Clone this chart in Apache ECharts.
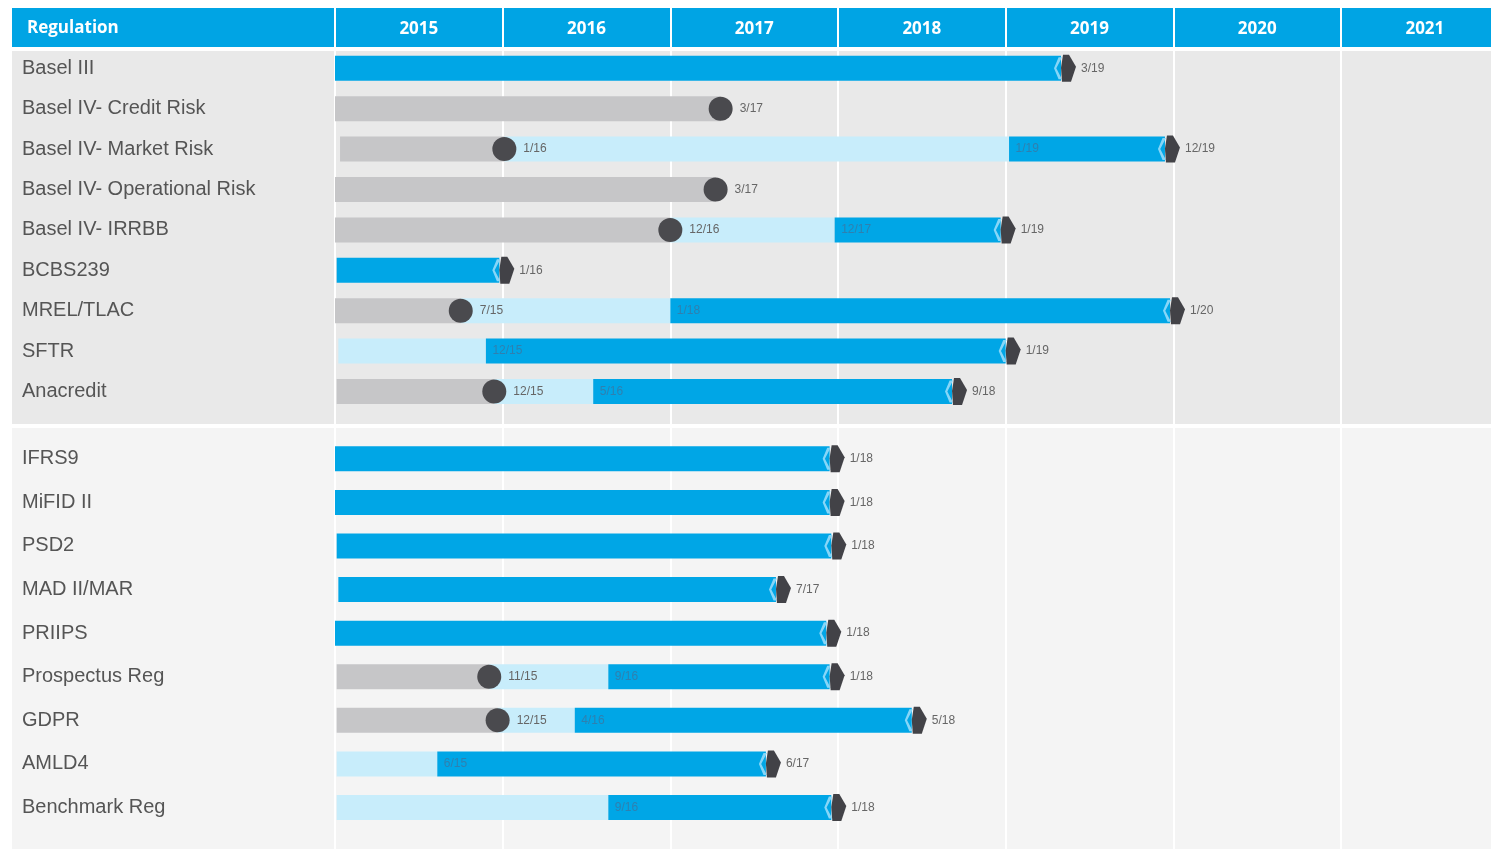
<!DOCTYPE html>
<html>
<head>
<meta charset="utf-8">
<script src="https://cdn.jsdelivr.net/npm/echarts@6/dist/echarts.min.js"></script>
<style>
html,body{margin:0;padding:0;background:#ffffff;}
#chart{width:1491px;height:849px;}
</style>
</head>
<body>
<div id="chart"></div>
<script>
// ---------------- DATA ----------------
const years = ['2015', '2016', '2017', '2018', '2019', '2020', '2021'];

const topRegulations = ['Basel III', 'Basel IV- Credit Risk', 'Basel IV- Market Risk', 'Basel IV- Operational Risk',
  'Basel IV- IRRBB', 'BCBS239', 'MREL/TLAC', 'SFTR', 'Anacredit'];
const bottomRegulations = ['IFRS9', 'MiFID II', 'PSD2', 'MAD II/MAR', 'PRIIPS', 'Prospectus Reg', 'GDPR',
  'AMLD4', 'Benchmark Reg'];

// positions in decimal years, one entry per regulation (top list, then bottom list)
const starts = [2015.00, 2015.00, 2015.03, 2015.00, 2015.00, 2015.01, 2015.00, 2015.02, 2015.01,
                2015.00, 2015.00, 2015.01, 2015.02, 2015.00, 2015.01, 2015.01, 2015.01, 2015.01];
// end of the grey phase (dot); null = no grey phase
const dots = [null, 2017.30, 2016.01, 2017.27, 2017.00, null, 2015.75, null, 2015.95,
              null, null, null, null, null, 2015.92, 2015.97, null, null];
// start of the solid blue phase
const blueStarts = [2015.00, null, 2019.02, null, 2017.98, 2015.01, 2017.00, 2015.90, 2016.54,
                    2015.00, 2015.00, 2015.01, 2015.02, 2015.00, 2016.63, 2016.43, 2015.61, 2016.63];
// end of the blue phase (arrow marker)
const ends = [2019.33, null, 2019.95, null, 2018.97, 2015.98, 2019.98, 2019.00, 2018.68,
              2017.95, 2017.95, 2017.96, 2017.63, 2017.93, 2017.95, 2018.44, 2017.57, 2017.96];

const dotLabels = ['', '3/17', '1/16', '3/17', '12/16', '', '7/15', '', '12/15',
                   '', '', '', '', '', '11/15', '12/15', '', ''];
const blueLabels = ['', '', '1/19', '', '12/17', '', '1/18', '12/15', '5/16',
                    '', '', '', '', '', '9/16', '4/16', '6/15', '9/16'];
const endLabels = ['3/19', '', '12/19', '', '1/19', '1/16', '1/20', '1/19', '9/18',
                   '1/18', '1/18', '1/18', '7/17', '1/18', '1/18', '5/18', '6/17', '1/18'];

// ---------------- STYLE ----------------
const C_BLUE = '#00A6E6';
const C_HEADER = '#00A4E4';
const C_LIGHT = '#C8EDFB';
const C_GREY = '#C6C6C8';
const C_DOT = '#4A4A4E';
const C_MARK = '#424247';
const BAR_H = 25;
const LABEL_FONT = 'Liberation Sans, Arial, sans-serif';

function barRenderer(color) {
  return function (params, api) {
    const row = api.value(0);
    const p0 = api.coord([api.value(1), row]);
    const p1 = api.coord([api.value(2), row]);
    return {
      type: 'rect',
      shape: { x: p0[0], y: p0[1] - BAR_H / 2, width: p1[0] - p0[0], height: BAR_H },
      style: { fill: color }
    };
  };
}

function sectionSeries(sec, offset, count) {
  const axisIdx = sec + 1;
  const grey = [], light = [], blue = [], dotPts = [], bluePts = [], endPts = [];
  for (let r = 0; r < count; r++) {
    const i = offset + r;
    if (dots[i] != null) {
      grey.push([r, starts[i], dots[i]]);
      dotPts.push({ name: dotLabels[i], value: [dots[i], r] });
    }
    const lightFrom = dots[i] != null ? dots[i] : starts[i];
    if (blueStarts[i] != null && blueStarts[i] > lightFrom + 0.001) {
      light.push([r, lightFrom, blueStarts[i]]);
    }
    if (ends[i] != null) {
      blue.push([r, blueStarts[i], ends[i]]);
      endPts.push({ name: endLabels[i], value: [ends[i], r] });
    }
    if (blueLabels[i]) bluePts.push({ name: blueLabels[i], value: [blueStarts[i], r] });
  }
  const common = { xAxisIndex: axisIdx, yAxisIndex: axisIdx };
  const custom = (name, data, color) => Object.assign({
    type: 'custom', name: name, data: data, renderItem: barRenderer(color),
    encode: { x: [1, 2], y: 0 }, silent: true
  }, common);
  const smallLabel = {
    show: true, position: 'right', formatter: '{b}', fontSize: 12,
    color: '#666', fontFamily: LABEL_FONT
  };
  return [
    custom('grey' + sec, grey, C_GREY),
    custom('light' + sec, light, C_LIGHT),
    custom('blue' + sec, blue, C_BLUE),
    Object.assign({
      type: 'scatter', data: bluePts, symbolSize: 1, itemStyle: { color: 'rgba(0,0,0,0)', opacity: 1 },
      label: Object.assign({}, smallLabel, { distance: 6, color: '#2E80B0' }), silent: true
    }, common),
    Object.assign({
      type: 'scatter', data: dotPts, symbol: 'circle', symbolSize: 24,
      itemStyle: { color: C_DOT, opacity: 1 }, label: Object.assign({}, smallLabel, { distance: 7 }), silent: true
    }, common),
    Object.assign({
      type: 'scatter', data: endPts.map(p => ({ value: p.value })),
      symbol: 'path://M4,0 L7,0 L2,13 L7,26 L4,26 L0,13 Z', symbolSize: [8, 22], symbolOffset: [-3, 0],
      itemStyle: { color: '#86D6F8', opacity: 1 }, silent: true
    }, common),
    Object.assign({
      type: 'scatter', data: endPts,
      symbol: 'path://M2,0 L8,0 L15,12 L10,27 L1,27 L0,13 Z', symbolSize: [15, 27], symbolOffset: [7.5, 0],
      itemStyle: { color: C_MARK, opacity: 1 }, label: Object.assign({}, smallLabel, { distance: 5 }), silent: true
    }, common)
  ];
}

const plotLeft = 335;
const yearPx = 167.67;
const plotWidth = yearPx * 7;

const valueX = (g) => ({
  gridIndex: g, type: 'value', min: 2015, max: 2022, interval: 1,
  axisLine: { show: false }, axisTick: { show: false }, axisLabel: { show: false },
  splitLine: { show: true, lineStyle: { color: '#ffffff', width: 2 } }
});
const nameY = (g, names) => ({
  gridIndex: g, type: 'value', inverse: true, min: -1, max: 9, interval: 1,
  axisLine: { show: false }, axisTick: { show: false }, splitLine: { show: false },
  axisLabel: {
    formatter: (v) => (names[v] !== undefined ? names[v] : ''),
    align: 'left', margin: plotLeft - 22, fontSize: 20, color: '#555555', fontFamily: LABEL_FONT
  }
});

const chart = echarts.init(document.getElementById('chart'), null, { renderer: 'canvas' });
chart.setOption({
  animation: false,
  backgroundColor: '#ffffff',
  title: {
    text: 'Regulation', left: 27, top: 20, padding: 0,
    textStyle: { color: '#ffffff', fontSize: 17, fontWeight: 'bold', fontFamily: 'Open Sans' }
  },
  graphic: [
    { type: 'rect', z: -10, shape: { x: 12, y: 8, width: 1479, height: 39 }, style: { fill: C_HEADER } },
    { type: 'rect', z: -10, shape: { x: 12, y: 51, width: 1479, height: 373 }, style: { fill: '#E9E9E9' } },
    { type: 'rect', z: -10, shape: { x: 12, y: 428, width: 1479, height: 421 }, style: { fill: '#F4F4F4' } }
  ],
  grid: [
    { left: plotLeft, top: 8, width: plotWidth, height: 39, outerBoundsMode: 'none', containLabel: false },
    { left: plotLeft, top: 68.3 - 40.4, width: plotWidth, height: 40.4 * 10, outerBoundsMode: 'none', containLabel: false },
    { left: plotLeft, top: 458.8 - 43.59, width: plotWidth, height: 43.59 * 10, outerBoundsMode: 'none', containLabel: false }
  ],
  xAxis: [
    {
      gridIndex: 0, type: 'category', data: years, position: 'bottom', boundaryGap: true,
      axisLine: { show: false }, axisTick: { show: false },
      splitLine: { show: true, interval: 0, lineStyle: { color: '#ffffff', width: 2 } },
      axisLabel: {
        inside: true, margin: 18, verticalAlign: 'middle', interval: 0,
        color: '#ffffff', fontWeight: 'bold', fontSize: 17, fontFamily: 'Open Sans'
      }
    },
    valueX(1),
    valueX(2)
  ],
  yAxis: [
    { gridIndex: 0, type: 'value', show: false },
    nameY(1, topRegulations),
    nameY(2, bottomRegulations)
  ],
  series: [].concat(
    sectionSeries(0, 0, topRegulations.length),
    sectionSeries(1, topRegulations.length, bottomRegulations.length)
  )
});
</script>
</body>
</html>
